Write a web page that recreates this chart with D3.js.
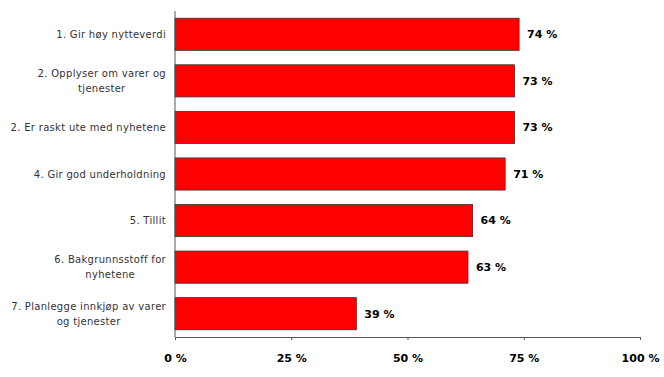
<!DOCTYPE html>
<html>
<head>
<meta charset="utf-8">
<script src="https://cdn.jsdelivr.net/npm/d3@7"></script>
<style>
  body { margin: 0; background: #fff; }
  svg { font-family: "DejaVu Sans", Verdana, sans-serif; }
</style>
</head>
<body>
<svg id="chart" width="664" height="377"></svg>
<script>
// data
const categories = [
    ["1. Gir høy nytteverdi"],
    ["2. Opplyser om varer og", "tjenester"],
    ["2. Er raskt ute med nyhetene"],
    ["4. Gir god underholdning"],
    ["5. Tillit"],
    ["6. Bakgrunnsstoff for", "nyhetene"],
    ["7. Planlegge innkjøp av varer", "og tjenester"]
];
const values = [74, 73, 73, 71, 64, 63, 39];
const ticks = [0, 25, 50, 75, 100];

const margin = { top: 11, right: 24, bottom: 40, left: 175 };
const width = 664 - margin.left - margin.right;
const height = 377 - margin.top - margin.bottom;

const svg = d3.select("#chart")
    .append("g")
    .attr("transform", `translate(${margin.left},${margin.top})`);

const x = d3.scaleLinear().domain([0, 100]).range([0, width]);
const y = d3.scaleBand()
    .domain(d3.range(categories.length))
    .range([0, height])
    .paddingInner(0.31)
    .paddingOuter(0.155);

// bars
svg.selectAll("rect.bar")
    .data(values)
    .join("rect")
    .attr("class", "bar")
    .attr("x", 0)
    .attr("y", (d, i) => y(i))
    .attr("width", d => x(d))
    .attr("height", y.bandwidth())
    .attr("fill", "#ff0000")
    .attr("stroke", "#333")
    .attr("stroke-width", 0.8);

// value labels
svg.selectAll("text.val")
    .data(values)
    .join("text")
    .attr("class", "val")
    .attr("x", d => x(d) + 8)
    .attr("y", (d, i) => y(i) + y.bandwidth() / 2)
    .attr("dy", "0.35em")
    .style("font-size", "11px")
    .style("font-weight", "bold")
    .attr("fill", "#000")
    .text(d => d + " %");

// y axis line, no ticks
svg.append("line")
    .attr("x1", 0).attr("x2", 0)
    .attr("y1", 0).attr("y2", height)
    .attr("stroke", "#555");

// x axis
const xAxis = svg.append("g")
    .attr("transform", `translate(0,${height})`)
    .call(d3.axisBottom(x).tickValues(ticks).tickSize(3).tickFormat(d => d + " %"));
xAxis.select(".domain").attr("stroke", "#555");
xAxis.selectAll(".tick line").attr("stroke", "#555");
xAxis.selectAll(".tick text")
    .attr("dy", "1.75em")
    .style("font-size", "11px")
    .style("font-weight", "bold")
    .style("font-family", "'DejaVu Sans', Verdana, sans-serif")
    .attr("fill", "#000");

// category labels: right aligned block, lines centred inside it
const labelRight = -9;
categories.forEach((lines, i) => {
    const g = svg.append("g");
    const cy = y(i) + y.bandwidth() / 2;
    const lh = 15;
    const texts = lines.map((l, j) => g.append("text")
        .attr("y", cy + (j - (lines.length - 1) / 2) * lh)
        .attr("dy", "0.35em")
        .attr("text-anchor", "middle")
        .style("font-size", "10px")
        .style("letter-spacing", "0.3px")
        .attr("fill", "#333")
        .text(l));
    const maxW = d3.max(texts, t => t.node().getComputedTextLength());
    texts.forEach(t => t.attr("x", labelRight - maxW / 2));
});
</script>
</body>
</html>
